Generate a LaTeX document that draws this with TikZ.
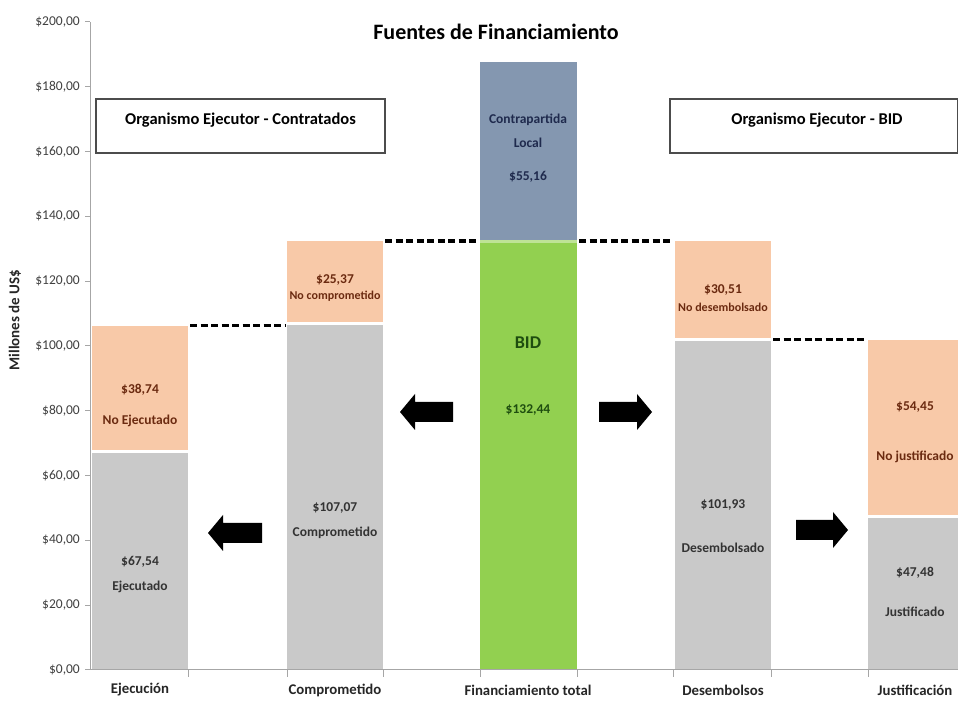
\documentclass[tikz,border=0pt]{standalone}
\usepackage{fontspec}
\setmainfont{Carlito}
\definecolor{peach}{HTML}{F8C9A8}
\definecolor{greybar}{HTML}{C9C9C9}
\definecolor{greenbar}{HTML}{92D050}
\definecolor{bluebar}{HTML}{8497B0}
\definecolor{axisgrey}{HTML}{A6A6A6}
\definecolor{ticktext}{HTML}{404040}
\definecolor{brownlab}{HTML}{6B2A10}
\definecolor{greenlab}{HTML}{1E4D0F}
\definecolor{bluelab}{HTML}{1F2A4D}
\begin{document}
\begin{tikzpicture}[x=1pt,y=1pt,
  ticklab/.style={anchor=east,font=\fontsize{13.5}{14}\selectfont,text=ticktext,inner sep=0pt},
  catlab/.style={font=\bfseries\fontsize{14.8}{15}\selectfont,text=black!85},
  orlab/.style={font=\bfseries\fontsize{13.5}{14}\selectfont,text=brownlab,inner sep=0pt},
  grlab/.style={font=\bfseries\fontsize{13.5}{14}\selectfont,text=black!80,inner sep=0pt},
  smalllab/.style={font=\bfseries\fontsize{12}{12}\selectfont},
  hdrbox/.style={draw=black!70,line width=1.3pt,fill=white},
  hdrtext/.style={font=\bfseries\fontsize{16.5}{17}\selectfont},
  dashline/.style={line width=3.5pt,dash pattern=on 7pt off 3.5pt},
  blockarrow/.style={fill=black}]
\useasboundingbox (0,0) rectangle (958,708);
\fill[white] (0,0) rectangle (958,708);

% title
\node (title) at (496,676) {\bfseries\fontsize{22}{24}\selectfont Fuentes de Financiamiento};

% header boxes
\draw[hdrbox] (96,555) rectangle (385,609);
\node[hdrtext] (boxL) at (240.5,588) {Organismo Ejecutor - Contratados};
\draw[hdrbox] (670,555) rectangle (957.5,609);
\node[hdrtext] (boxR) at (817,588) {Organismo Ejecutor - BID};

% bars: Ejecucion
\fill[greybar] (92,38) rectangle (188,256.8);
\fill[peach] (92,256.8) rectangle (188,382.3);
\draw[white,line width=3pt] (92,256.8) -- (188,256.8);
% Comprometido
\fill[greybar] (287,38) rectangle (383,384.9);
\fill[peach] (287,384.9) rectangle (383,467.1);
\draw[white,line width=3pt] (287,384.9) -- (383,384.9);
% Financiamiento total
\fill[greenbar] (480,38) rectangle (577,467.1);
\fill[bluebar] (480,467.1) rectangle (577,645.8);
\draw[greenbar!60!white,line width=3pt] (480,466.6) -- (577,466.6);
% Desembolsos
\fill[greybar] (675,38) rectangle (771,368.3);
\fill[peach] (675,368.3) rectangle (771,467.1);
\draw[white,line width=3pt] (675,368.3) -- (771,368.3);
% Justificacion
\fill[greybar] (868,38) rectangle (958,191.8);
\fill[peach] (868,191.8) rectangle (958,368.3);
\draw[white,line width=3pt] (868,191.8) -- (958,191.8);

% axes
\draw[axisgrey,line width=1pt] (90,38) -- (90,686);
\draw[axisgrey,line width=1pt] (90,38) -- (958,38);
\foreach \k/\lab in {0/{\$0,00},1/{\$20,00},2/{\$40,00},3/{\$60,00},4/{\$80,00},5/{\$100,00},6/{\$120,00},7/{\$140,00},8/{\$160,00},9/{\$180,00},10/{\$200,00}}{
  \draw[axisgrey,line width=1pt] (85,{38+64.8*\k}) -- (90,{38+64.8*\k});
  \node[ticklab] at (80,{38+64.8*\k}) {\lab};
}
\foreach \xx in {188,287,383,480,577,673,771,868}{
  \draw[axisgrey,line width=0.8pt] (\xx,38) -- (\xx,31);
}
\node[rotate=90,font=\bfseries\fontsize{15}{15}\selectfont,text=black!85] (ylab) at (15,388) {Millones de US\$};

% category labels
\node[catlab] (c1) at (140,18) {Ejecución};
\node[catlab] (c2) at (335,18) {Comprometido};
\node[catlab] (c3) at (528,18) {Financiamiento total};
\node[catlab] (c4) at (723,18) {Desembolsos};
\node[catlab] (c5) at (915,18) {Justificación};

% data labels
\node[orlab] at (140,318) {\$38,74};
\node[orlab] at (140,287) {No Ejecutado};
\node[grlab] at (140,146) {\$67,54};
\node[grlab] at (140,121) {Ejecutado};

\node[orlab] at (335,428) {\$25,37};
\node[orlab,smalllab] at (335,412) {No comprometido};
\node[grlab] at (335,200) {\$107,07};
\node[grlab] at (335,175) {Comprometido};

\node[grlab,text=bluelab] at (528,588) {Contrapartida};
\node[grlab,text=bluelab] at (528,565) {Local};
\node[grlab,text=bluelab] at (528,531) {\$55,16};
\node[font=\bfseries\fontsize{18}{18}\selectfont,text=greenlab] at (528,365) {BID};
\node[grlab,text=greenlab] at (528,298) {\$132,44};

\node[orlab] at (723,418) {\$30,51};
\node[orlab,smalllab] at (723,401) {No desembolsado};
\node[grlab] at (723,203) {\$101,93};
\node[grlab] at (723,160) {Desembolsado};

\node[orlab] at (915,301) {\$54,45};
\node[orlab] at (915,251) {No justificado};
\node[grlab] at (915,135) {\$47,48};
\node[grlab] at (915,96) {Justificado};

% dashed level lines
\draw[dashline] (190,382.3) -- (285,382.3);
\draw[dashline] (385,467.1) -- (478,467.1);
\draw[dashline] (579,467.1) -- (673,467.1);
\draw[dashline] (773,368.3) -- (866,368.3);

% block arrows
\fill[blockarrow] (208,175) -- (223,193) -- (223,185) -- (262,185) -- (262,165) -- (223,165) -- (223,157) -- cycle;
\fill[blockarrow] (400,296) -- (415,314) -- (415,306) -- (453,306) -- (453,286) -- (415,286) -- (415,278) -- cycle;
\fill[blockarrow] (652,296) -- (637,314) -- (637,306) -- (599,306) -- (599,286) -- (637,286) -- (637,278) -- cycle;
\fill[blockarrow] (848,178) -- (833,196) -- (833,188) -- (796,188) -- (796,168) -- (833,168) -- (833,160) -- cycle;
\end{tikzpicture}
\end{document}
